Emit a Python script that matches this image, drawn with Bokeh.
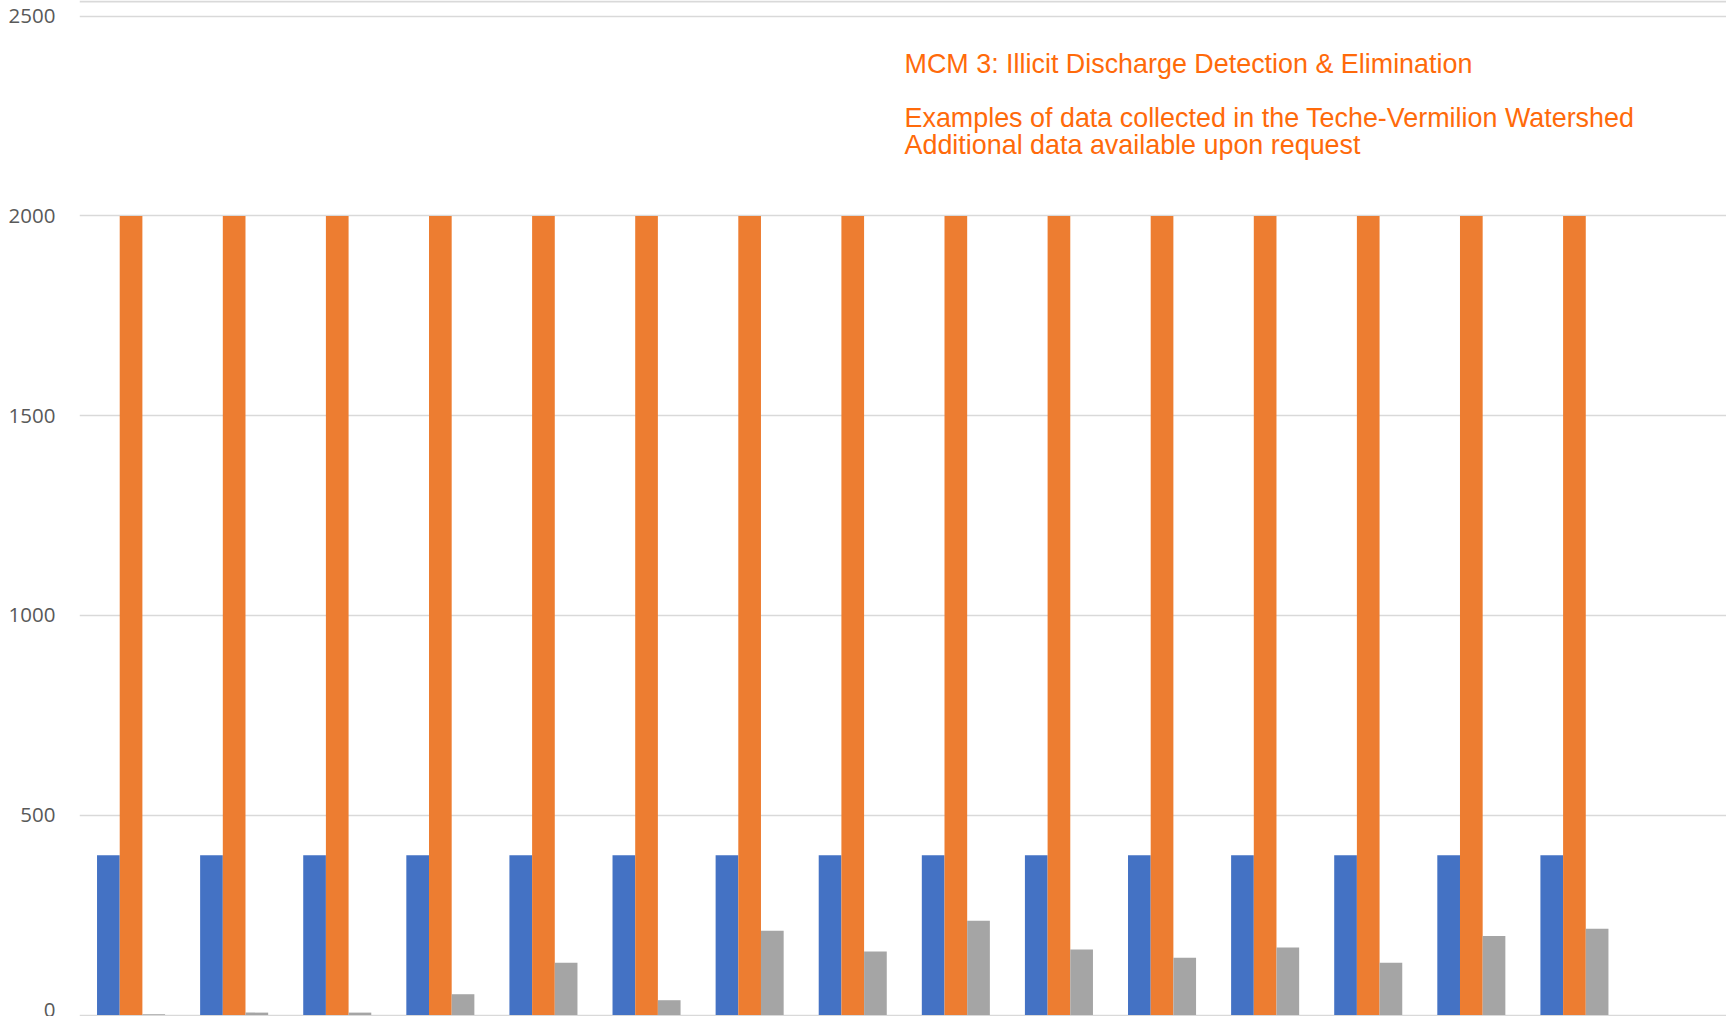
from bokeh.plotting import figure
from bokeh.models import FixedTicker, Span, Label, Range1d
from bokeh.embed import file_html
from bokeh.resources import INLINE

# Sampling sites (15 categories) and the three measured series
sites = list(range(1, 16))
series_blue = [400] * 15
series_orange = [2000] * 15
series_grey = [2, 6, 6, 52, 131, 37, 211, 159, 236, 164, 143, 169, 131, 198, 216]
y_ticks = [0, 500, 1000, 1500, 2000, 2500]

title_lines = [
    "MCM 3: Illicit Discharge Detection & Elimination",
    "Examples of data collected in the Teche-Vermilion Watershed",
    "Additional data available upon request",
]

BLUE = "#4472C4"
ORANGE = "#ED7D31"
GREY = "#A5A5A5"
GRID = "#d9d9d9"
TEXT_ORANGE = "#ff6a0a"

W, H = 1726, 1016
p = figure(
    width=W, height=H,
    x_range=Range1d(0.5, 16.475),
    y_range=Range1d(-3.75, 2539.3),
    output_backend="svg",
    toolbar_location=None,
    min_border_left=79, min_border_right=0,
    min_border_top=0, min_border_bottom=0,
)
p.outline_line_color = None
p.background_fill_color = "white"
p.border_fill_color = "white"

bw = 0.22
p.vbar(x=[s - bw for s in sites], top=series_blue, width=bw, fill_color=BLUE, line_color=None)
p.vbar(x=sites, top=series_orange, width=bw, fill_color=ORANGE, line_color=None)
p.vbar(x=[s + bw for s in sites], top=series_grey, width=bw, fill_color=GREY, line_color=None)

# axes
p.xaxis.visible = False
p.xgrid.visible = False
yax = p.yaxis[0]
yax.ticker = FixedTicker(ticks=y_ticks)
yax.axis_line_color = None
yax.major_tick_line_color = None
yax.minor_tick_line_color = None
yax.major_tick_out = 0
yax.major_tick_in = 0
yax.major_label_standoff = 24
yax.major_label_text_font = "Open Sans"
yax.major_label_text_font_size = "20.5px"
yax.major_label_text_color = "#595959"

p.ygrid.ticker = FixedTicker(ticks=y_ticks)
p.ygrid.grid_line_color = GRID
p.ygrid.grid_line_width = 1.5

# chart border along the top
p.add_layout(Span(location=2536.8, dimension="width", line_color=GRID, line_width=2))

# annotation text block
baselines = [2380.3, 2244.2, 2177.9]
for txt, yb in zip(title_lines, baselines):
    p.add_layout(Label(
        x=8.502, y=yb, text=txt,
        text_font="Liberation Sans", text_font_size="26.9px",
        text_color=TEXT_ORANGE, text_baseline="alphabetic", text_align="left",
    ))

open("out.html", "w").write(file_html(p, INLINE))
